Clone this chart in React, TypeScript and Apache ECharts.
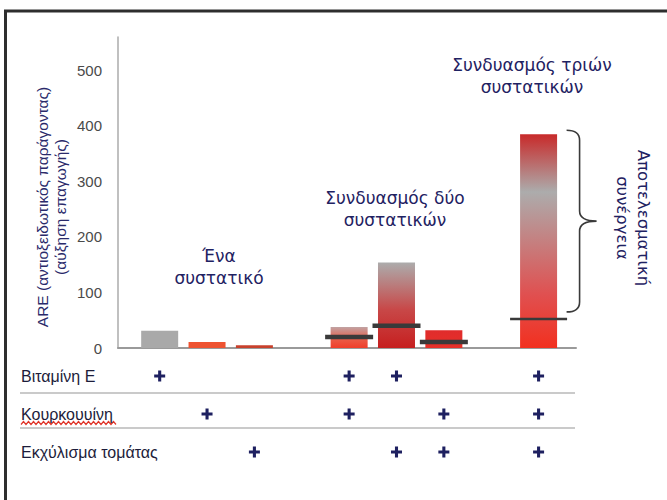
import React, { useEffect, useRef } from 'react';
import * as echarts from 'echarts';

// ---- data ----
const positions = [1, 2, 3, 5, 6, 7, 9];
const areValues = [31, 11, 5, 38, 154, 32, 385];
const expectedValues = [null, null, null, 20, 40, 11, 52];
const synergyRange = [392, 65];
const yTicks = [0, 100, 200, 300, 400, 500];
const rowLabels = ['Βιταμίνη Ε', 'Κουρκουυίνη', 'Εκχύλισμα τομάτας'];
const vitaminE = [1, 0, 0, 1, 1, 0, 1];
const curcumin = [0, 1, 0, 1, 0, 1, 1];
const tomato = [0, 0, 1, 0, 1, 1, 1];
const groupTitles = ['Ένα\nσυστατικό', 'Συνδυασμός δύο\nσυστατικών', 'Συνδυασμός τριών\nσυστατικών'];
const yAxisTitle = 'ARE (αντιοξειδωτικός παράγοντας)\n(αύξηση επαγωγής)';
const braceTitle = 'Αποτελεσματική\nσυνέργεια';

const grad = (stops: [number, string][]) => ({
  type: 'linear', x: 0, y: 0, x2: 0, y2: 1,
  colorStops: stops.map(([offset, color]) => ({ offset, color })),
});

const barFills: any[] = [
  '#a9a9a9',
  '#ee5331',
  '#c8412c',
  grad([[0, '#c0a3a3'], [0.6, '#ea5a45'], [1, '#f03e2a']]),
  grad([[0, '#acacac'], [0.55, '#c84848'], [1, '#c61f1f']]),
  grad([[0, '#e02c2c'], [1, '#e63028']]),
  grad([[0, '#c82a2a'], [0.27, '#acacac'], [0.75, '#e05050'], [1, '#f2301f']]),
];

const NAVY = '#1f2262';
const FONT = 'DejaVu Sans';

export default function App() {
  const ref = useRef<HTMLDivElement>(null);
  useEffect(() => {
    if (!ref.current) return;
    const chart = echarts.init(ref.current, null, { renderer: 'svg' });

    const plusRows = [vitaminE, curcumin, tomato];
    const plusData: any[] = [];
    plusRows.forEach((row, r) => {
      row.forEach((f, i) => {
        if (f) plusData.push([positions[i], rowLabels[r]]);
      });
    });

    const wave: number[][] = [];
    for (let x = 21; x <= 117; x += 2.5) wave.push([x, 423 + (Math.round((x - 21) / 2.5) % 2 === 0 ? 1.5 : -1.5)]);

    const titleStyle = (text: string) => ({
      text, fill: NAVY, fontFamily: FONT, fontSize: 17, lineHeight: 22,
      textAlign: 'center', textVerticalAlign: 'middle', align: 'center', verticalAlign: 'middle',
    });

    chart.setOption({
      animation: false,
      backgroundColor: '#ffffff',
      grid: [
        { left: 118, right: 91, top: 37, bottom: 152 },
        { left: 118, right: 91, top: 357, height: 114 },
      ],
      xAxis: [
        {
          type: 'value', gridIndex: 0, min: 0.12, max: 9.79,
          axisLine: { show: true, lineStyle: { color: '#9a9a9a', width: 2 } },
          axisTick: { show: false }, axisLabel: { show: false }, splitLine: { show: false },
        },
        {
          type: 'value', gridIndex: 1, min: 0.12, max: 9.79, show: false,
        },
      ],
      yAxis: [
        {
          type: 'value', gridIndex: 0, min: 0, max: 560, interval: 100,
          axisLine: { show: true, lineStyle: { color: '#ababab', width: 1.5 } },
          axisTick: { show: false }, splitLine: { show: false },
          axisLabel: {
            color: '#4a4a4a', fontSize: 15, fontFamily: 'Liberation Sans', margin: 16,
            formatter: (v: number) => (yTicks.includes(v) ? String(v) : ''),
          },
        },
        {
          type: 'category', gridIndex: 1, data: rowLabels, inverse: true,
          axisLine: { show: false }, axisTick: { show: false }, splitLine: { show: false },
          axisLabel: { align: 'left', margin: 97, color: '#1c1c3a', fontSize: 16, fontFamily: 'Liberation Sans' },
        },
      ],
      series: [
        {
          type: 'bar', xAxisIndex: 0, yAxisIndex: 0, barWidth: 37,
          data: positions.map((p, i) => ({ value: [p, areValues[i]], itemStyle: { color: barFills[i] } })),
          z: 2,
        },
        {
          type: 'scatter', xAxisIndex: 0, yAxisIndex: 0, symbol: 'rect',
          data: positions
            .map((p, i) => (expectedValues[i] == null ? null : {
              value: [p, expectedValues[i]],
              symbolSize: i === positions.length - 1 ? [57, 2.5] : [48, 4.5],
            }))
            .filter((d) => d !== null),
          itemStyle: { color: '#3a3a3a', opacity: 1 },
          z: 5,
        },
        {
          type: 'custom', xAxisIndex: 0, yAxisIndex: 0, clip: false, silent: true,
          data: [[positions[positions.length - 1], synergyRange[0], synergyRange[1]]],
          renderItem: (params: any, api: any) => {
            const top = api.coord([api.value(0), api.value(1)]);
            const bot = api.coord([api.value(0), api.value(2)]);
            const x0 = top[0] + 28, xs = x0 + 13, xt = x0 + 30;
            const y0 = top[1], y1 = bot[1], ym = (y0 + y1) / 2;
            const r = 10;
            const d = `M${x0},${y0} Q${xs},${y0} ${xs},${y0 + r} L${xs},${ym - r} Q${xs},${ym} ${xt},${ym} Q${xs},${ym} ${xs},${ym + r} L${xs},${y1 - r} Q${xs},${y1} ${x0},${y1}`;
            return { type: 'path', shape: { pathData: d }, style: { stroke: '#3a3a3a', fill: 'none', lineWidth: 1.6 } };
          },
        },
        {
          type: 'scatter', xAxisIndex: 1, yAxisIndex: 1,
          symbol: 'path://M3.6,0H6.4V3.6H10V6.4H6.4V10H3.6V6.4H0V3.6H3.6Z',
          symbolSize: 11,
          itemStyle: { color: '#1e2060', opacity: 1 },
          data: plusData,
        },
      ],
      graphic: [
        { type: 'rect', silent: true, z: 100, shape: { x: 5.5, y: 11, width: 800, height: 600 }, style: { fill: 'none', stroke: '#2e2e2e', lineWidth: 3 } },
        { type: 'text', x: 219, y: 267, style: titleStyle(groupTitles[0]) },
        { type: 'text', x: 395, y: 209, style: titleStyle(groupTitles[1]) },
        { type: 'text', x: 532, y: 76, style: titleStyle(groupTitles[2]) },
        {
          type: 'text', x: 51, y: 207, rotation: Math.PI / 2,
          style: {
            text: yAxisTitle, fill: '#2a2a6a', fontFamily: 'Liberation Sans', fontSize: 15.5, lineHeight: 18,
            textAlign: 'center', textVerticalAlign: 'middle', align: 'center', verticalAlign: 'middle',
          },
        },
        {
          type: 'text', x: 633, y: 218, rotation: -Math.PI / 2,
          style: {
            text: braceTitle, fill: NAVY, fontFamily: FONT, fontSize: 16.5, lineHeight: 21,
            textAlign: 'center', textVerticalAlign: 'middle', align: 'center', verticalAlign: 'middle',
          },
        },
        { type: 'line', silent: true, shape: { x1: 20, y1: 393, x2: 575, y2: 393 }, style: { stroke: '#cacaca', lineWidth: 2 } },
        { type: 'line', silent: true, shape: { x1: 20, y1: 428, x2: 575, y2: 428 }, style: { stroke: '#cacaca', lineWidth: 2 } },
        { type: 'polyline', silent: true, shape: { points: wave }, style: { stroke: '#e0352a', lineWidth: 1.2, fill: 'none' } },
      ],
    });
    return () => chart.dispose();
  }, []);
  return <div ref={ref} style={{ position: 'absolute', left: 0, top: 0, width: 667, height: 500 }} />;
}
